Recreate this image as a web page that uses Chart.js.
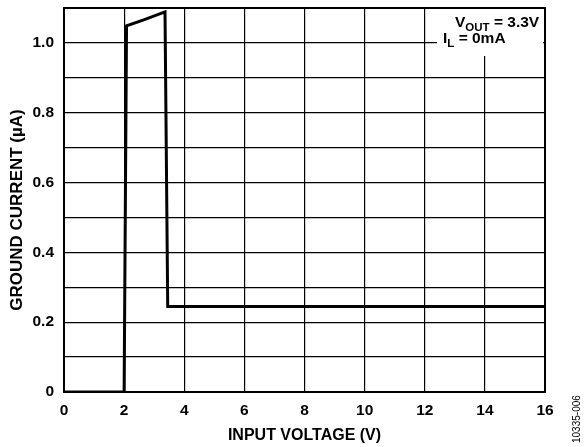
<!DOCTYPE html>
<html><head><meta charset="utf-8">
<script src="https://cdn.jsdelivr.net/npm/chart.js@4/dist/chart.umd.min.js"></script>
<style>html,body{margin:0;padding:0;background:#fff}#wrap{width:584px;height:447px;position:relative}</style>
</head><body><div id="wrap"><canvas id="c"></canvas></div>
<script>
const inputVoltage = [0, 2.0, 2.08, 2.65, 3.36, 3.45, 16];
const groundCurrent = [0, 0, 1.049, 1.066, 1.089, 0.245, 0.245];
const xTicks = [0, 2, 4, 6, 8, 10, 12, 14, 16];
const yTickLabels = ['0', '0.2', '0.4', '0.6', '0.8', '1.0'];
const xTitle = 'INPUT VOLTAGE (V)';
const yTitle = 'GROUND CURRENT (µA)';
const FONT = "'Liberation Sans', Arial, sans-serif";

const points = inputVoltage.map((x, i) => ({x, y: groundCurrent[i]}));

const overlay = {
  id: 'overlay',
  afterDatasetsDraw(chart) {
    const {ctx, chartArea: a} = chart;
    ctx.save();
    // annotation box
    ctx.fillStyle = '#fff';
    ctx.fillRect(437, a.top + 1, a.right - 1 - 437 - 1, 55 - a.top);
    ctx.fillStyle = '#000';
    ctx.textAlign = 'left';
    ctx.textBaseline = 'alphabetic';
    ctx.font = 'bold 15.5px ' + FONT;
    let x = 455, y = 27;
    ctx.fillText('V', x, y); x += ctx.measureText('V').width;
    ctx.font = 'bold 11.5px ' + FONT;
    ctx.fillText('OUT', x, y + 4); x += ctx.measureText('OUT').width;
    ctx.font = 'bold 15.5px ' + FONT;
    ctx.fillText(' = 3.3V', x, y);
    x = 443; y = 43;
    ctx.fillText('I', x, y); x += ctx.measureText('I').width;
    ctx.font = 'bold 11.5px ' + FONT;
    ctx.fillText('L', x, y + 4); x += ctx.measureText('L').width;
    ctx.font = 'bold 15.5px ' + FONT;
    ctx.fillText(' = 0mA', x, y);
    // frame
    ctx.strokeStyle = '#000';
    ctx.lineWidth = 2;
    ctx.strokeRect(a.left, a.top, a.right - a.left, a.bottom - a.top);
    // axis titles
    ctx.font = 'bold 16px ' + FONT;
    ctx.textAlign = 'center';
    ctx.textBaseline = 'middle';
    ctx.fillText(xTitle, (a.left + a.right) / 2, 436);
    ctx.save();
    ctx.translate(17.5, 210);
    ctx.rotate(-Math.PI / 2);
    ctx.font = 'bold 17px ' + FONT;
    ctx.fillText(yTitle, 0, 0);
    ctx.restore();
    // side code
    ctx.font = '10px ' + FONT;
    ctx.translate(577, 443);
    ctx.rotate(-Math.PI / 2);
    ctx.textAlign = 'left';
    ctx.textBaseline = 'middle';
    ctx.fillText('10335-006', 0, 0);
    ctx.restore();
  }
};

new Chart(document.getElementById('c'), {
  type: 'line',
  data: {
    datasets: [{
      data: points,
      borderColor: '#000',
      borderWidth: 3,
      pointRadius: 0,
      tension: 0,
      fill: false
    }]
  },
  options: {
    responsive: true,
    maintainAspectRatio: false,
    animation: false,
    layout: {padding: {top: 8, right: 39, bottom: 0, left: 0}},
    plugins: {legend: {display: false}, tooltip: {enabled: false}},
    scales: {
      x: {
        type: 'linear', min: 0, max: 16,
        afterBuildTicks: s => { s.ticks = xTicks.map(v => ({value: v})); },
        afterFit: s => { s.height = 55; },
        grid: {color: '#000', lineWidth: 1.2, drawTicks: false},
        border: {color: '#000', width: 2},
        ticks: {color: '#000', font: {family: FONT, size: 15.5, weight: 'bold'}, padding: 9, maxRotation: 0,
          callback: v => String(v)}
      },
      y: {
        type: 'linear', min: 0, max: 1.1,
        afterBuildTicks: s => { const t = []; for (let i = 0; i <= 11; i++) t.push({value: i / 10}); s.ticks = t; },
        afterFit: s => { s.width = 64; s.paddingTop = 0; s.paddingBottom = 0; },
        grid: {color: '#000', lineWidth: 1.2, drawTicks: false},
        border: {color: '#000', width: 2},
        ticks: {color: '#000', font: {family: FONT, size: 15.5, weight: 'bold'}, padding: 10,
          callback: (v, i) => (i % 2 === 0 && i / 2 < yTickLabels.length) ? yTickLabels[i / 2] : ''}
      }
    }
  },
  plugins: [overlay]
});
</script></body></html>
